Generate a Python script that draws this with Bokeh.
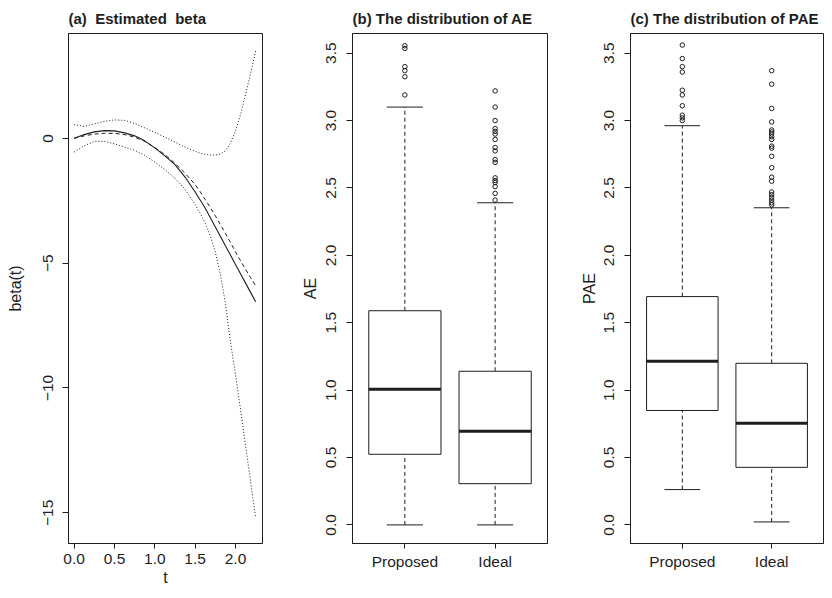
from bokeh.plotting import figure
from bokeh.layouts import row
from bokeh.models import FixedTicker, Range1d
from bokeh.embed import file_html
from bokeh.resources import INLINE

# ---------------- data ----------------
t_vals = [0.0, 0.125, 0.25, 0.375, 0.5, 0.625, 0.75, 0.875, 1.0, 1.125,
          1.25, 1.375, 1.5, 1.5625, 1.625, 1.6875, 1.75, 1.8125, 1.875, 1.9375,
          2.0, 2.0625, 2.125, 2.1875, 2.25]
beta_est = [0.0, 0.15, 0.26, 0.31, 0.30, 0.22, 0.10, -0.10, -0.38, -0.70,
            -1.05, -1.55, -2.15, -2.47, -2.80, -3.17, -3.55, -3.92, -4.30, -4.67,
            -5.05, -5.42, -5.80, -6.17, -6.55]
beta_true = [0.0, 0.10, 0.17, 0.20, 0.20, 0.15, 0.05, -0.12, -0.37, -0.65,
             -1.00, -1.40, -1.85, -2.14, -2.45, -2.77, -3.10, -3.45, -3.80, -4.17,
             -4.55, -4.90, -5.25, -5.58, -5.90]
beta_upper = [0.55, 0.48, 0.58, 0.68, 0.74, 0.72, 0.60, 0.42, 0.24, 0.05,
              -0.15, -0.35, -0.52, -0.59, -0.64, -0.67, -0.67, -0.63, -0.50, -0.20,
              0.30, 0.95, 1.75, 2.60, 3.50]
beta_lower = [-0.55, -0.30, -0.12, -0.12, -0.22, -0.35, -0.48, -0.68, -0.95, -1.25,
              -1.60, -2.05, -2.65, -3.00, -3.40, -3.90, -4.55, -5.45, -6.60, -8.15,
              -9.45, -10.85, -12.30, -13.75, -15.20]
t_ticks = [0.0, 0.5, 1.0, 1.5, 2.0]
beta_ticks = [0, -5, -10, -15]

groups = ["Proposed", "Ideal"]
group_pos = [1, 2]
box_ticks = [0.0, 0.5, 1.0, 1.5, 2.0, 2.5, 3.0, 3.5]

ae_q1 = [0.524, 0.306]
ae_med = [1.007, 0.694]
ae_q3 = [1.589, 1.140]
ae_lo = [0.0, 0.0]
ae_hi = [3.10, 2.39]
ae_out_proposed = [3.555, 3.535, 3.40, 3.37, 3.325, 3.19]
ae_out_ideal = [3.22, 3.10, 3.00, 2.94, 2.92, 2.90, 2.86, 2.80, 2.775, 2.71,
                2.69, 2.575, 2.555, 2.54, 2.51, 2.46, 2.41]

pae_q1 = [0.849, 0.427]
pae_med = [1.215, 0.755]
pae_q3 = [1.694, 1.199]
pae_lo = [0.262, 0.022]
pae_hi = [2.962, 2.353]
pae_out_proposed = [3.56, 3.46, 3.40, 3.36, 3.225, 3.19, 3.11, 3.04, 3.02, 3.00]
pae_out_ideal = [3.37, 3.27, 3.09, 2.99, 2.93, 2.915, 2.90, 2.88, 2.86, 2.81,
                 2.795, 2.735, 2.65, 2.58, 2.55, 2.47, 2.45, 2.43, 2.41, 2.39, 2.375]

FONT = "Liberation Sans"
INK = "#1e1e1e"
H = 590
TOP = 33
BOTTOM = 47
NB = "\u00a0"


def fmt(v):
    s = f"{v:g}" if isinstance(v, int) else f"{v:.1f}"
    return s.replace("-", "\u2212")


def base_fig(title, width, left, right, xr, yr):
    p = figure(width=width, height=H, x_range=Range1d(*xr), y_range=Range1d(*yr),
               output_backend="svg", toolbar_location=None,
               min_border_left=left, min_border_right=right,
               min_border_top=TOP, min_border_bottom=BOTTOM)
    p.title.text = title
    p.title.text_font = FONT
    p.title.text_font_size = "15px"
    p.title.text_font_style = "bold"
    p.title.text_color = INK
    p.title.align = "left"
    p.title.offset = 0
    p.title.standoff = 14
    p.xgrid.grid_line_color = None
    p.ygrid.grid_line_color = None
    p.outline_line_color = INK
    p.outline_line_width = 1
    p.background_fill_color = "white"
    p.border_fill_color = "white"
    for ax in (p.xaxis[0], p.yaxis[0]):
        ax.axis_line_color = INK
        ax.major_tick_line_color = INK
        ax.major_tick_in = 0
        ax.major_tick_out = 6
        ax.minor_tick_line_color = None
        ax.major_label_text_font = FONT
        ax.major_label_text_font_size = "15.5px"
        ax.major_label_text_color = INK
        ax.axis_label_text_font = FONT
        ax.axis_label_text_font_size = "16px"
        ax.axis_label_text_font_style = "normal"
        ax.axis_label_text_color = INK
    p.yaxis[0].major_label_orientation = "vertical"
    p.xaxis[0].major_tick_out = 5
    return p


# ---------------- panel (a) ----------------
pa = base_fig("(a)" + " " + NB + "Estimated" + " " + NB + "beta", 290, 68, 28,
              (-0.07, 2.335), (-16.23, 4.2))
pa.xaxis[0].ticker = FixedTicker(ticks=t_ticks)
pa.xaxis[0].major_label_overrides = {v: fmt(v) for v in t_ticks}
pa.yaxis[0].ticker = FixedTicker(ticks=beta_ticks)
pa.yaxis[0].major_label_overrides = {v: fmt(v) for v in beta_ticks}
pa.xaxis[0].axis_label = "t"
pa.yaxis[0].axis_label = "beta(t)"
pa.xaxis[0].major_label_standoff = 5
pa.xaxis[0].axis_label_standoff = 2
pa.yaxis[0].major_label_standoff = 9
pa.yaxis[0].axis_label_standoff = 17

pa.line(t_vals, beta_est, line_color=INK, line_width=1.1)
pa.line(t_vals, beta_true, line_color=INK, line_width=1, line_dash="4 3")
pa.line(t_vals, beta_upper, line_color=INK, line_width=1, line_dash="1 2")
pa.line(t_vals, beta_lower, line_color=INK, line_width=1, line_dash="1 2")


# ---------------- box plots ----------------
def boxplot(p, q1, med, q3, lo, hi, outs):
    half_box = 0.4
    half_cap = 0.2
    p.segment(x0=group_pos, y0=q3, x1=group_pos, y1=hi, line_color=INK,
              line_width=1, line_dash="4 3")
    p.segment(x0=group_pos, y0=lo, x1=group_pos, y1=q1, line_color=INK,
              line_width=1, line_dash="4 3")
    p.vbar(x=group_pos, width=2 * half_box, bottom=q1, top=q3,
           fill_color="white", line_color=INK, line_width=1)
    p.segment(x0=[x - half_box for x in group_pos], y0=med,
              x1=[x + half_box for x in group_pos], y1=med,
              line_color=INK, line_width=3)
    p.segment(x0=[x - half_cap for x in group_pos], y0=hi,
              x1=[x + half_cap for x in group_pos], y1=hi, line_color=INK, line_width=1)
    p.segment(x0=[x - half_cap for x in group_pos], y0=lo,
              x1=[x + half_cap for x in group_pos], y1=lo, line_color=INK, line_width=1)
    ox, oy = [], []
    for x, vals in zip(group_pos, outs):
        ox += [x] * len(vals)
        oy += vals
    p.scatter(ox, oy, marker="circle", size=4.5, fill_color=None,
              line_color=INK, line_width=1)


def box_axes(p, ylabel, lab_standoff):
    p.xaxis[0].ticker = FixedTicker(ticks=group_pos)
    p.xaxis[0].major_label_overrides = {x: g for x, g in zip(group_pos, groups)}
    p.xaxis[0].major_label_standoff = 4
    p.yaxis[0].ticker = FixedTicker(ticks=box_ticks)
    p.yaxis[0].major_label_overrides = {v: f"{v:.1f}" for v in box_ticks}
    p.yaxis[0].major_label_standoff = 10
    p.yaxis[0].axis_label = ylabel
    p.yaxis[0].axis_label_standoff = lab_standoff


pb = base_fig("(b) The distribution of AE", 270, 62, 13, (0.42, 2.58), (-0.138, 3.646))
box_axes(pb, "AE", 5)
boxplot(pb, ae_q1, ae_med, ae_q3, ae_lo, ae_hi, [ae_out_proposed, ae_out_ideal])

pc = base_fig("(c) The distribution of PAE", 264, 70, 1, (0.42, 2.58), (-0.138, 3.646))
box_axes(pc, "PAE", 4)
boxplot(pc, pae_q1, pae_med, pae_q3, pae_lo, pae_hi, [pae_out_proposed, pae_out_ideal])

layout = row(pa, pb, pc)
open("out.html", "w").write(file_html(layout, INLINE))
